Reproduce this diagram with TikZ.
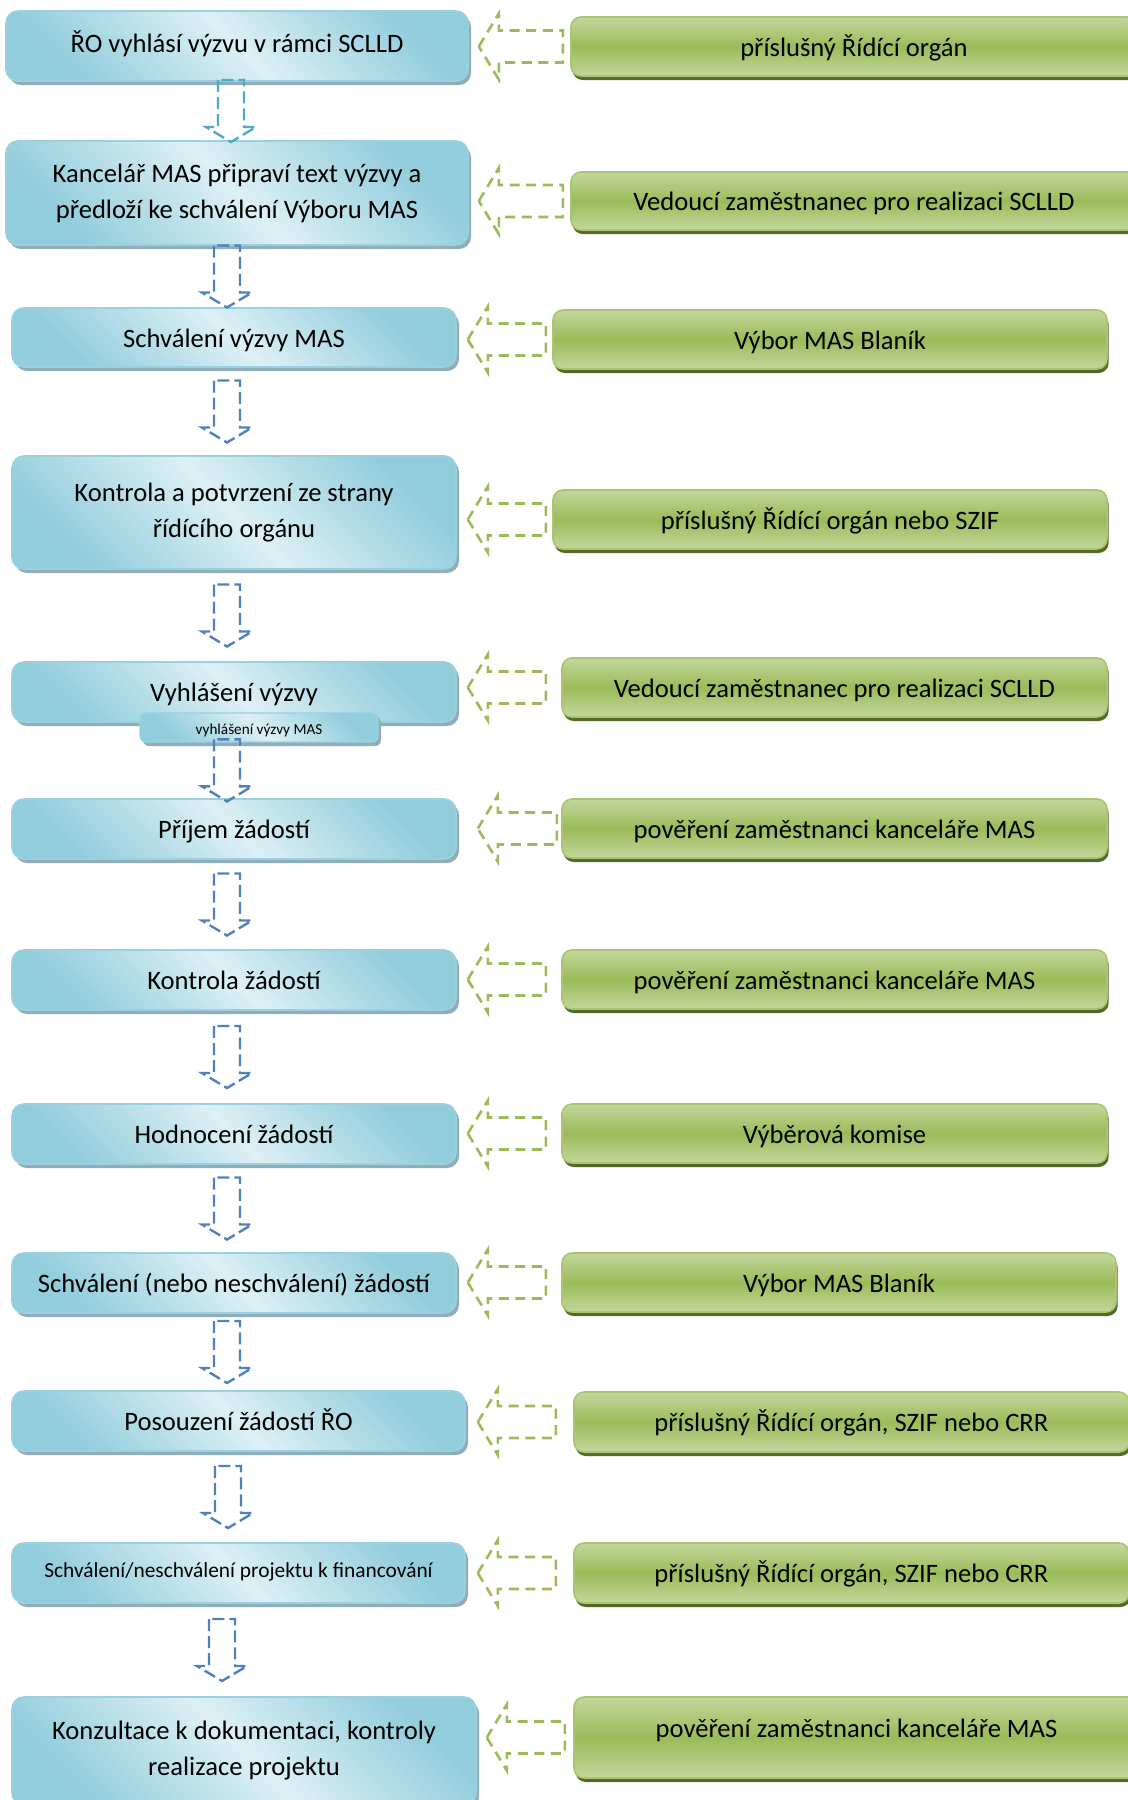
\documentclass[tikz,border=0pt]{standalone}
\usepackage{fontspec}
\setmainfont{Carlito}
\usetikzlibrary{calc}
\usetikzlibrary{shadows}

\definecolor{blueedge}{HTML}{9AD0DF}
\definecolor{bluedark}{HTML}{92CDDC}
\definecolor{bluelight}{HTML}{DDF0F5}
\definecolor{blueshadow}{HTML}{8FAEBA}
\definecolor{greenlight}{HTML}{C3D79C}
\definecolor{greenmid}{HTML}{9BBB59}
\definecolor{greenedge}{HTML}{A8C56F}
\definecolor{greenshadow}{HTML}{536A2B}
\definecolor{arrowblue}{HTML}{4F81BD}
\definecolor{arrowteal}{HTML}{4BACC6}
\definecolor{arrowgreen}{HTML}{9BBB59}

\tikzset{
  corner/.style args={#1/#2/#3/#4}{anchor=center, at={({(#1+#3)/2},{(#2+#4)/2})},
    minimum width={(#3-#1)*0.5pt}, minimum height={(#4-#2)*0.5pt}},
  lbox/.style={draw=blueedge, line width=0.8pt, rounded corners=6pt, inner sep=0pt, align=center,
    top color=bluedark, bottom color=bluedark, middle color=bluelight, shading angle=-45,
    drop shadow={shadow xshift=1.5pt, shadow yshift=-2pt, fill=blueshadow, opacity=1},
    font=\fontsize{13.3}{18}\selectfont},
  subbox/.style={lbox, rounded corners=3pt, line width=0.6pt,
    drop shadow={shadow xshift=1pt, shadow yshift=-1pt, fill=blueshadow, opacity=1},
    font=\fontsize{7.6}{9}\selectfont, text height=8pt, text depth=1.1pt},
  gbox/.style={draw=greenedge, line width=0.8pt, rounded corners=5pt, inner sep=0pt, align=center,
    top color=greenlight, bottom color=greenlight, middle color=greenmid,
    drop shadow={shadow xshift=0.8pt, shadow yshift=-2pt, fill=greenshadow, opacity=1},
    font=\fontsize{13.3}{18}\selectfont},
  one/.style={text height=12pt, text depth=2.4pt},
  downblock/.style={line width=1.2pt, dash pattern=on 6pt off 2.5pt},
  leftblock/.style={draw=arrowgreen, line width=1.3pt, dash pattern=on 5pt off 3.3pt}
}

\begin{document}
\begin{tikzpicture}[x=0.5pt, y=-0.5pt]

\useasboundingbox (0,0) rectangle (1128,1800);
\clip (0,0) rectangle (1128,1800);

\node[lbox, one, text height=10pt, text depth=3.9pt, corner=6/11/468/81] (l1) {ŘO vyhlásí výzvu v rámci SCLLD};
\node[lbox, corner=6/141/468/245] (l2) {Kancelář MAS připraví text výzvy a\\předloží ke schválení Výboru MAS};
\node[lbox, one, corner=12/308/456/367] (l3) {Schválení výzvy MAS};
\node[lbox, corner=12/456/456/569] (l4) {Kontrola a potvrzení ze strany\\řídícího orgánu};
\node[lbox, one, corner=12/662/456/722] (l5) {Vyhlášení výzvy};
\node[subbox, corner=140/713/378/742] (l5s) {vyhlášení výzvy MAS};
\node[lbox, one, corner=12/799/456/859] (l6) {Příjem žádostí};
\node[lbox, one, corner=12/950/456/1010] (l7) {Kontrola žádostí};
\node[lbox, one, corner=12/1104/456/1164] (l8) {Hodnocení žádostí};
\node[lbox, one, corner=12/1253/456/1313] (l9) {Schválení (nebo neschválení) žádostí};
\node[lbox, one, corner=12/1391/465/1451] (l10) {Posouzení žádostí ŘO};
\node[lbox, font=\fontsize{10.7}{13}\selectfont, text height=8pt, text depth=3.1pt,
  corner=12/1543/465/1603] (l11) {Schválení/neschválení projektu k financování};
\node[lbox, corner=12/1697/476/1805] (l12) {Konzultace k dokumentaci, kontroly\\realizace projektu};

\node[gbox, one, corner=571/17/1137/76] (r1) {příslušný Řídící orgán};
\node[gbox, one, corner=571/172/1137/230] (r2) {Vedoucí zaměstnanec pro realizaci SCLLD};
\node[gbox, one, corner=553/310/1107/369] (r3) {Výbor MAS Blaník};
\node[gbox, one, corner=553/490/1107/549] (r4) {příslušný Řídící orgán nebo SZIF};
\node[gbox, one, corner=562/658/1107/717] (r5) {Vedoucí zaměstnanec pro realizaci SCLLD};
\node[gbox, one, corner=562/799/1107/858] (r6) {pověření zaměstnanci kanceláře MAS};
\node[gbox, one, corner=562/950/1107/1009] (r7) {pověření zaměstnanci kanceláře MAS};
\node[gbox, one, corner=562/1104/1107/1163] (r8) {Výběrová komise};
\node[gbox, one, corner=562/1253/1116/1312] (r9) {Výbor MAS Blaník};
\node[gbox, one, corner=574/1392/1129/1452] (r10) {příslušný Řídící orgán, SZIF nebo CRR};
\node[gbox, one, corner=574/1543/1129/1603] (r11) {příslušný Řídící orgán, SZIF nebo CRR};
\node[gbox, one, corner=574/1697/1139/1778] (r12) {\raisebox{4.75pt}{pověření zaměstnanci kanceláře MAS}};

\foreach \a/\b/\x/\col in {l1/l2/231/arrowteal, l2/l3/227/arrowblue, l3/l4/227/arrowblue,
    l4/l5/227/arrowblue, l5s/l6/227/arrowblue, l6/l7/227/arrowblue, l7/l8/227/arrowblue,
    l8/l9/227/arrowblue, l9/l10/227/arrowblue, l10/l11/228/arrowblue, l11/l12/222/arrowblue}
{
  \coordinate (m) at ($(\a.south)!0.5!(\b.north)$);
  \coordinate (ax) at (\x,0);
  \draw[downblock, draw=\col, shift={(ax |- m)}] (-13,-31) -- (-13,16) -- (-25,16) -- (0,31)
    -- (25,16) -- (13,16) -- (13,-31) -- cycle;
}

\foreach \l/\r/\dx/\len in {l1/r1/10/84, l2/r2/10/84, l3/r3/11/78, l4/r4/11/78, l5/r5/11/78,
    l6/r6/21/79, l7/r7/11/78, l8/r8/11/78, l9/r9/11/78, l10/r10/12/78, l11/r11/12/78, l12/r12/10/78}
{
  \coordinate (tip) at ($(\l.east |- \r.west)+(\dx,0)$);
  \draw[leftblock, shift={(tip)}] (0,0) -- (20,-33) -- (20,-16) -- (\len,-16) -- (\len,16)
    -- (20,16) -- (20,33) -- cycle;
}

\end{tikzpicture}
\end{document}
